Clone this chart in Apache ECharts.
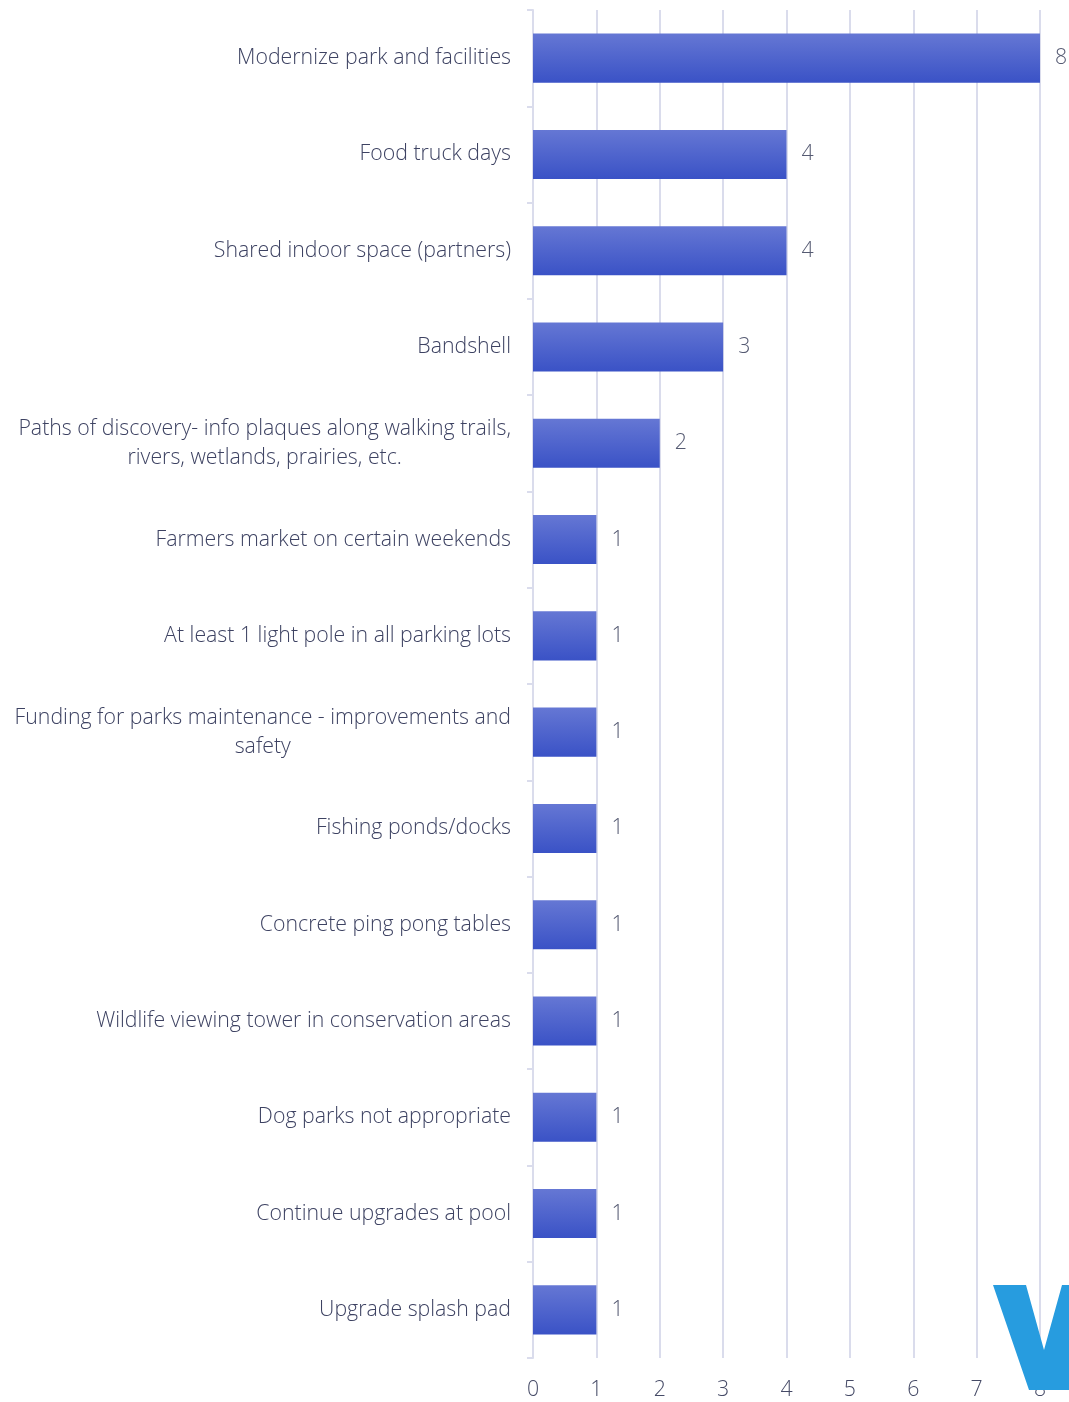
<!DOCTYPE html>
<html><head><meta charset="utf-8">
<script src="https://cdn.jsdelivr.net/npm/echarts@6/dist/echarts.min.js"></script>
<style>html,body{margin:0;padding:0;background:#fff}#c{width:1069px;height:1402px}</style>
</head><body><div id="c"></div>
<script>
const categories = [
  "Modernize park and facilities",
  "Food truck days",
  "Shared indoor space (partners)",
  "Bandshell",
  "Paths of discovery- info plaques along walking trails,\nrivers, wetlands, prairies, etc.",
  "Farmers market on certain weekends",
  "At least 1 light pole in all parking lots",
  "Funding for parks maintenance - improvements and\nsafety",
  "Fishing ponds/docks",
  "Concrete ping pong tables",
  "Wildlife viewing tower in conservation areas",
  "Dog parks not appropriate",
  "Continue upgrades at pool",
  "Upgrade splash pad"
];
const values = [8, 4, 4, 3, 2, 1, 1, 1, 1, 1, 1, 1, 1, 1];
const xTicks = [0, 1, 2, 3, 4, 5, 6, 7, 8];

const chart = echarts.init(document.getElementById('c'));
const font = '"Open Sans", "Noto Sans", sans-serif';
const fs = 21.3;
chart.setOption({
  animation: false,
  grid: { left: 533, right: 29, top: 10, bottom: 44, containLabel: false },
  xAxis: {
    type: 'value', min: xTicks[0], max: xTicks[xTicks.length - 1], interval: 1,
    axisLine: { show: false }, axisTick: { show: false },
    splitLine: { show: true, lineStyle: { color: '#dadcec', width: 2 } },
    axisLabel: { color: '#454a66', fontSize: fs, fontFamily: font, fontWeight: 300, margin: 21 }
  },
  yAxis: {
    type: 'category', data: categories, inverse: true,
    axisLine: { show: true, lineStyle: { color: '#dadcec', width: 2 } },
    axisTick: { show: true, length: 6, lineStyle: { color: '#dadcec', width: 2 } },
    axisLabel: {
      color: '#3d4262', fontSize: fs, fontFamily: font, fontWeight: 300, margin: 22, lineHeight: 29, align: 'right',
      formatter: v => v.split('\n').map(s => '{c|' + s + '}').join('\n'),
      rich: { c: { align: 'center', color: '#3d4262', fontSize: fs, fontFamily: font, fontWeight: 300, lineHeight: 29 } }
    }
  },
  series: [{
    type: 'bar', data: values, barWidth: '51%',
    itemStyle: {
      color: new echarts.graphic.LinearGradient(0, 0, 0, 1, [
        { offset: 0, color: '#6577d4' },
        { offset: 1, color: '#3a52c6' }
      ])
    },
    label: { show: true, position: 'right', distance: 15, color: '#555a72', fontSize: fs, fontFamily: font, fontWeight: 300 }
  }],
  graphic: [{
    type: 'polygon', z: 100,
    shape: { points: [[993,1285],[1026,1285],[1044,1350],[1062,1285],[1100,1285],[1069,1390],[1029,1390]] },
    style: { fill: '#279cdf' }
  }]
});
</script></body></html>
